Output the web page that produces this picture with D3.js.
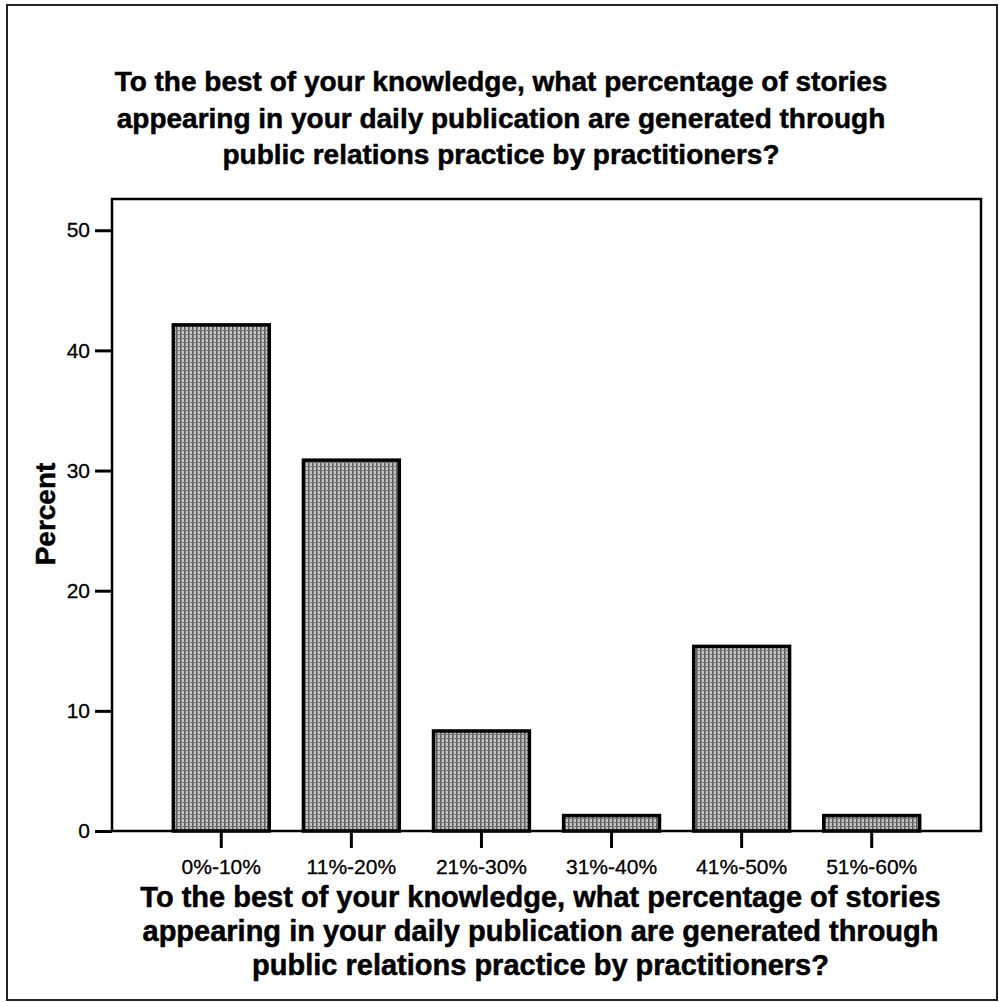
<!DOCTYPE html>
<html>
<head>
<meta charset="utf-8">
<script src="https://cdn.jsdelivr.net/npm/d3@7/dist/d3.min.js"></script>
<style>
  html, body { margin: 0; padding: 0; background: #fff; }
  svg { display: block; font-family: "Liberation Sans", Arial, sans-serif; }
</style>
</head>
<body>
<div id="chart"></div>
<script>
// categories and percent values (n = 71 respondents)
const categories = ['0%-10%', '11%-20%', '21%-30%', '31%-40%', '41%-50%', '51%-60%'];
const percents = [42.25, 30.99, 8.45, 1.41, 15.49, 1.41];
const yTicks = [0, 10, 20, 30, 40, 50];
const titleLines = [
  'To the best of your knowledge, what percentage of stories',
  'appearing in your daily publication are generated through',
  'public relations practice by practitioners?'
];
const yLabel = 'Percent';

const width = 999, height = 1002;
const plot = { left: 112, right: 981, top: 199, bottom: 831 };

const svg = d3.select('#chart').append('svg')
  .attr('width', width).attr('height', height);

// stippled grey fill like the scanned bars
const defs = svg.append('defs');
const pat = defs.append('pattern')
  .attr('id', 'stipple').attr('patternUnits', 'userSpaceOnUse')
  .attr('width', 4).attr('height', 4);
pat.append('rect').attr('width', 4).attr('height', 4).attr('fill', '#c4c4c4');
pat.append('rect').attr('x', 0).attr('y', 0).attr('width', 1.5).attr('height', 4).attr('fill', '#555');
pat.append('rect').attr('x', 0).attr('y', 2).attr('width', 4).attr('height', 1).attr('fill', '#777');

// outer border
svg.append('rect')
  .attr('x', 7).attr('y', 5).attr('width', 990).attr('height', 995)
  .attr('fill', 'none').attr('stroke', '#222').attr('stroke-width', 2);

// title
svg.append('text')
  .attr('text-anchor', 'middle')
  .style('font-weight', 'bold').style('font-size', '28px')
  .attr('stroke', '#000').attr('stroke-width', 0.5)
  .selectAll('tspan').data(titleLines).join('tspan')
  .attr('x', 501).attr('y', (d, i) => 91 + i * 36.5)
  .text(d => d);

const x = d3.scaleBand()
  .domain(categories)
  .range([plot.left, plot.right])
  .paddingInner(0.24)
  .paddingOuter(0.46);

const y = d3.scaleLinear()
  .domain([0, 52.6])
  .range([plot.bottom, plot.top]);

// bars
svg.append('g').selectAll('rect')
  .data(percents)
  .join('rect')
  .attr('x', (d, i) => x(categories[i]) + 1.5)
  .attr('y', d => y(d) + 1.5)
  .attr('width', x.bandwidth() - 3)
  .attr('height', d => y(0) - y(d) - 1.5)
  .attr('fill', 'url(#stipple)')
  .attr('stroke', '#000')
  .attr('stroke-width', 3.5);

// plot frame
svg.append('rect')
  .attr('x', plot.left).attr('y', plot.top)
  .attr('width', plot.right - plot.left).attr('height', plot.bottom - plot.top)
  .attr('fill', 'none').attr('stroke', '#000').attr('stroke-width', 2.5);

// y axis
const yAxis = svg.append('g')
  .attr('transform', `translate(${plot.left},0)`)
  .call(d3.axisLeft(y).tickValues(yTicks).tickSize(17).tickPadding(5));
yAxis.select('.domain').remove();
yAxis.selectAll('line').attr('stroke', '#000').attr('stroke-width', 3);
yAxis.selectAll('text')
  .style('font-size', '21px').style('font-family', '"Liberation Sans", Arial, sans-serif')
  .attr('fill', '#000').attr('stroke', '#000').attr('stroke-width', 0.3);

// x axis
const xAxis = svg.append('g')
  .attr('transform', `translate(0,${plot.bottom})`)
  .call(d3.axisBottom(x).tickSize(17).tickPadding(11));
xAxis.select('.domain').remove();
xAxis.selectAll('line').attr('stroke', '#000').attr('stroke-width', 3);
xAxis.selectAll('text')
  .style('font-size', '21px').style('font-family', '"Liberation Sans", Arial, sans-serif')
  .attr('fill', '#000').attr('stroke', '#000').attr('stroke-width', 0.3);

// y label
svg.append('text')
  .attr('transform', `translate(55,${(plot.top + plot.bottom) / 2 - 1}) rotate(-90)`)
  .attr('text-anchor', 'middle')
  .style('font-weight', 'bold').style('font-size', '28px')
  .attr('stroke', '#000').attr('stroke-width', 0.5)
  .text(yLabel);

// x label (same wording as the title)
svg.append('text')
  .attr('text-anchor', 'middle')
  .style('font-weight', 'bold').style('font-size', '29px')
  .attr('stroke', '#000').attr('stroke-width', 0.5)
  .selectAll('tspan').data(titleLines).join('tspan')
  .attr('x', (plot.left + plot.right) / 2 - 6).attr('y', (d, i) => 907 + i * 34)
  .text(d => d);
</script>
</body>
</html>
